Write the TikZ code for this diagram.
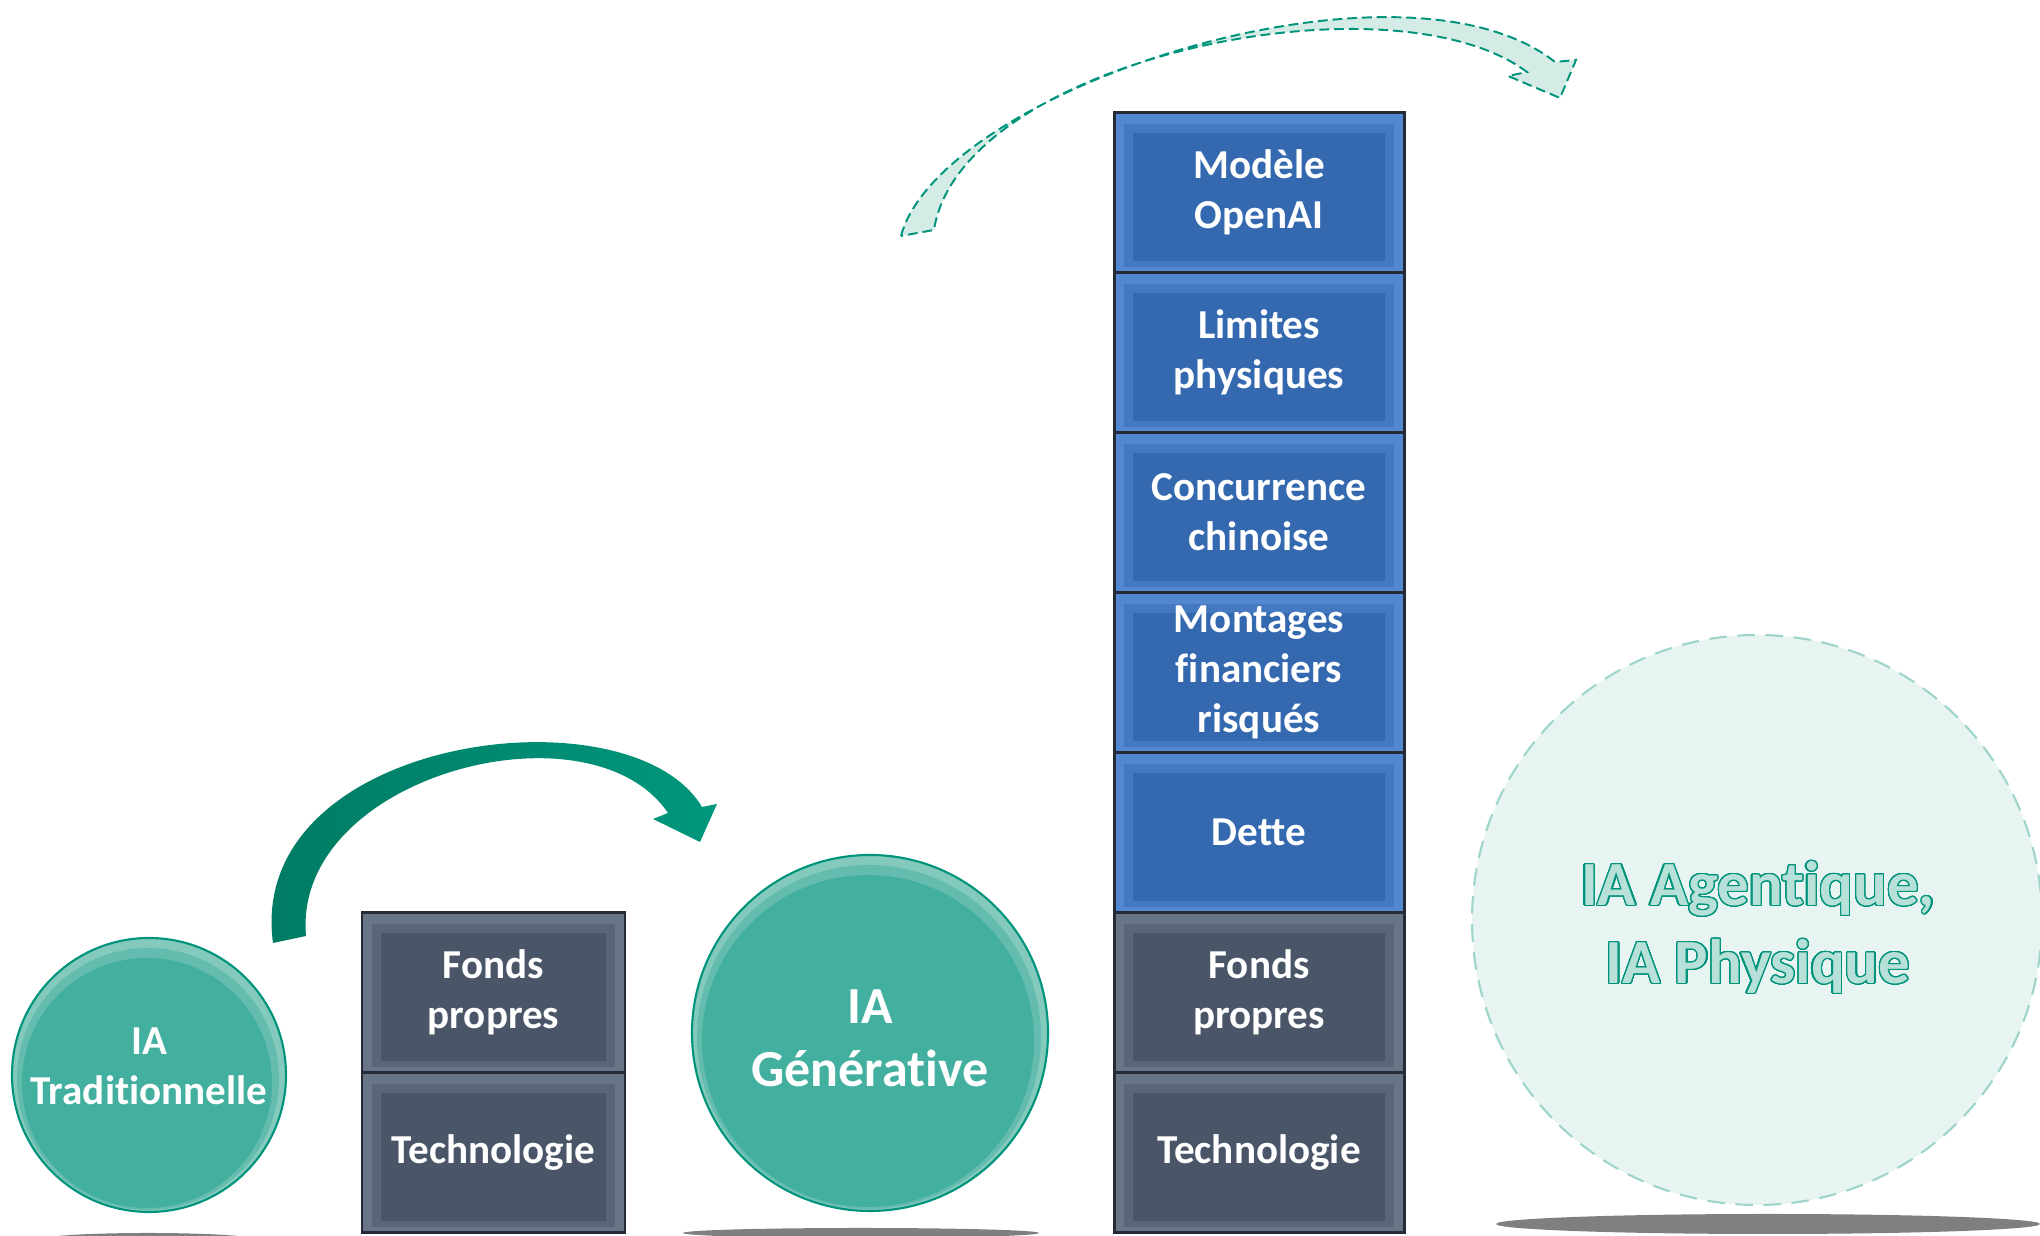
\documentclass[tikz,border=0pt]{standalone}
\usepackage{fontspec}
\setmainfont{Carlito}[Ligatures=NoCommon]
\usepackage{contour}
\usetikzlibrary{positioning}

\definecolor{ardoise}{HTML}{687587}
\definecolor{ardoisefonce}{HTML}{4A5568}
\definecolor{bleuclair}{HTML}{5387D0}
\definecolor{bleufonce}{HTML}{3469B0}
\definecolor{bordpile}{HTML}{242A36}
\definecolor{sarcelle}{HTML}{43AF9F}
\definecolor{sarcelleclair}{HTML}{83CABD}
\definecolor{sarcellebord}{HTML}{00937B}
\definecolor{sarcellesombre}{HTML}{007A62}
\definecolor{sarcellevif}{HTML}{00977C}
\definecolor{sarcellepale}{HTML}{E8F4F1}
\definecolor{sarcelletrait}{HTML}{9DD5CA}
\definecolor{sarcellefleche}{HTML}{D4EBE6}
\definecolor{sarcelletexte}{HTML}{B7E1D8}
\definecolor{ombre}{HTML}{7F7F7F}

\contourlength{0.35pt}
\contournumber{32}

\begin{document}
\begin{tikzpicture}[
    brique/.style 2 args={draw=bordpile, line width=0.85pt, fill=#1, inner sep=0pt, outer sep=0pt,
      minimum height=1.6cm, text=white, align=center, font=\bfseries\fontsize{11.7}{14.2}\selectfont,
      path picture={
        \fill[#1!50!#2] ([xshift=0.10cm,yshift=0.05cm]path picture bounding box.south west)
          rectangle ([xshift=-0.10cm,yshift=-0.12cm]path picture bounding box.north east);
        \fill[#2] ([xshift=0.19cm,yshift=0.11cm]path picture bounding box.south west)
          rectangle ([xshift=-0.19cm,yshift=-0.21cm]path picture bounding box.north east);}},
    gris/.style={brique={ardoise}{ardoisefonce}},
    bleu/.style={brique={bleuclair}{bleufonce}},
    etroit/.style={minimum width=2.63cm},
    large/.style={minimum width=2.90cm},
    bulle/.style={circle, draw=sarcellebord, line width=0.6pt, fill=sarcelleclair, inner sep=0pt,
      minimum size=2*#1,
      path picture={
        \fill[sarcelleclair!50!sarcelle] ([xshift=-0.01cm,yshift=-0.04cm]path picture bounding box.center)
          circle ({#1-0.06cm});
        \fill[sarcelle] ([xshift=-0.02cm,yshift=-0.08cm]path picture bounding box.center)
          circle ({#1-0.12cm});}},
    bulle pale/.style={circle, draw=sarcelletrait, line width=0.6pt, dash pattern=on 5pt off 3pt,
      fill=sarcellepale, inner sep=0pt, minimum size=5.70cm},
    texte/.style 2 args={inner sep=0pt, text=white, align=center, font=\bfseries\fontsize{#1}{#2}\selectfont},
    ombre portee/.style={fill=ombre}
  ]
      \useasboundingbox (0,0) rectangle (20.40,12.36);

      \fill[ombre portee] (1.48,-0.04) ellipse (1.10cm and 0.07cm);
      \fill[ombre portee] (8.61,0.03) ellipse (1.78cm and 0.05cm);
      \fill[ombre portee] (17.68,0.12) ellipse (2.72cm and 0.10cm);

      \node[bulle=1.37cm] (trad) at (1.49,1.61) {};
      \node[texte={11.7}{14.2}] (trad-txt) at (1.49,1.70) {IA\\Traditionnelle};

      \node[gris, etroit] (techno1) at (4.935,0.835) {Technologie};
      \node[gris, etroit, above=0pt of techno1] (fonds1) {Fonds\\propres};

      \node[bulle=1.78cm] (gen) at (8.70,2.03) {};
      \node[texte={14.8}{17.9}] (gen-txt) at (8.70,1.98) {IA\\Générative};

      \node[gris, large] (techno2) at (12.59,0.835) {Technologie};
      \node[gris, large, above=0pt of techno2] (fonds2) {Fonds\\propres};
      \node[bleu, large, above=0pt of fonds2] (dette) {Dette};
      \node[bleu, large, above=0pt of dette] (montages) {Montages\\financiers\\risqués};
      \node[bleu, large, above=0pt of montages] (concurrence) {Concurrence\\chinoise};
      \node[bleu, large, above=0pt of concurrence] (limites) {Limites\\physiques};
      \node[bleu, large, above=0pt of limites] (modele) {Modèle\\OpenAI};

      \node[bulle pale] (agent) at (17.57,3.16) {};
      \node[texte={17.9}{22.2}, text=sarcelletexte] (agent-txt) at (17.58,3.08)
        {\contour{sarcellebord}{IA Agentique,}\\\contour{sarcellebord}{IA Physique}};

      \shade[left color=sarcellesombre, right color=sarcellevif]
        (2.73,2.93) .. controls (2.45,5.00) and (6.30,5.50) .. (7.02,4.29)
        -- (7.17,4.32) -- (7.00,3.94) -- (6.53,4.17) -- (6.68,4.23)
        .. controls (5.90,5.38) and (2.92,4.60) .. (3.06,3.00) -- cycle;

      \filldraw[fill=sarcellefleche, draw=sarcellebord, line width=0.55pt, dash pattern=on 2.8pt off 1.4pt]
        (9.01,10.00) .. controls (9.40,11.46) and (14.00,12.96) .. (15.55,11.74)
        -- (15.76,11.76) -- (15.60,11.38) -- (15.08,11.60) -- (15.27,11.64)
        .. controls (13.90,12.66) and (9.60,11.76) .. (9.34,10.06) -- cycle;
    \end{tikzpicture}
\end{document}
